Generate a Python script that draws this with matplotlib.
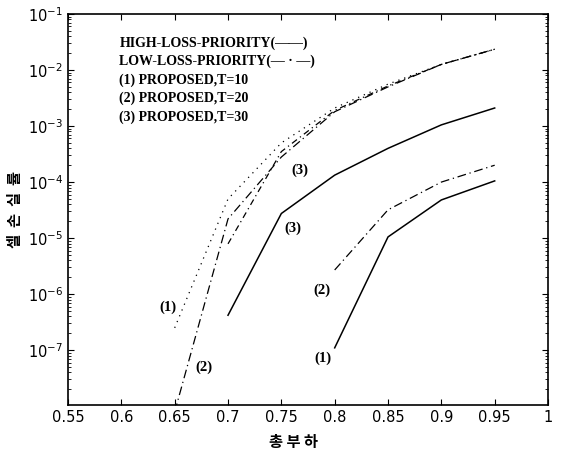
import matplotlib
matplotlib.use("Agg")
import matplotlib.pyplot as plt
from matplotlib.ticker import NullFormatter
import numpy as np

# total load (x) and cell loss rate (y)
load_hi_t10 = [0.80, 0.85, 0.90, 0.95]
loss_hi_t10 = [1.1e-7, 1.05e-5, 4.8e-5, 1.05e-4]

load_hi_t20 = [0.80, 0.85, 0.90, 0.95]
loss_hi_t20 = [2.7e-6, 3.2e-5, 1.0e-4, 2.0e-4]

load_hi_t30 = [0.70, 0.75, 0.80, 0.85, 0.90, 0.95]
loss_hi_t30 = [4.2e-7, 2.75e-5, 1.33e-4, 4.0e-4, 1.05e-3, 2.1e-3]

load_lo_t10 = [0.65, 0.70, 0.75, 0.80, 0.85, 0.90, 0.95]
loss_lo_t10 = [2.5e-7, 5.0e-5, 5.0e-4, 2.1e-3, 5.6e-3, 1.26e-2, 2.35e-2]

load_lo_t20 = [0.65, 0.70, 0.75, 0.80, 0.85, 0.90, 0.95]
loss_lo_t20 = [7.9e-9, 2.2e-5, 2.8e-4, 1.8e-3, 5.0e-3, 1.26e-2, 2.35e-2]

load_lo_t30 = [0.70, 0.75, 0.80, 0.85, 0.90, 0.95]
loss_lo_t30 = [7.9e-6, 3.5e-4, 1.9e-3, 5.2e-3, 1.26e-2, 2.35e-2]

y_ticks = [1e-7, 1e-6, 1e-5, 1e-4, 1e-3, 1e-2, 1e-1]
x_ticklabels = ["0.55", "0.6", "0.65", "0.7", "0.75", "0.8", "0.85", "0.9", "0.95", "1"]

legend_lines = [
    "HIGH-LOSS-PRIORITY(\u2014\u2014)",
    "LOW-LOSS-PRIORITY(\u2014 \u00b7 \u2014)",
    "(1) PROPOSED,T=10",
    "(2) PROPOSED,T=20",
    "(3) PROPOSED,T=30",
]

# curve tags: (text, x, y)
tags = [
    ("(1)", 0.644, 10 ** -6.23),
    ("(2)", 0.677, 10 ** -7.30),
    ("(3)", 0.767, 10 ** -3.79),
    ("(3)", 0.761, 10 ** -4.83),
    ("(2)", 0.788, 10 ** -5.93),
    ("(1)", 0.789, 10 ** -7.15),
]

fig = plt.figure(figsize=(5.63, 4.49), dpi=100)
ax = fig.add_axes([0.1208, 0.098, 0.8526, 0.8708])

dashdot = (0, (7, 3, 1, 3))
ax.plot(load_hi_t10, loss_hi_t10, color="black", lw=1.1)
ax.plot(load_hi_t20, loss_hi_t20, color="black", lw=0.9, linestyle=dashdot)
ax.plot(load_hi_t30, loss_hi_t30, color="black", lw=1.1)
ax.plot(load_lo_t10, loss_lo_t10, color="black", lw=0.9, linestyle=(0, (1, 4)))
ax.plot(load_lo_t20, loss_lo_t20, color="black", lw=0.9, linestyle=dashdot)
ax.plot(load_lo_t30, loss_lo_t30, color="black", lw=0.9, linestyle=(0, (5, 3, 1, 3)))

ax.set_yscale("log")
ax.set_xlim(0.55, 1.0)
ax.set_ylim(1.05e-8, 1e-1)
ax.set_yticks(y_ticks)
ax.yaxis.set_minor_formatter(NullFormatter())
ax.set_xticks(np.arange(0.55, 1.001, 0.05))
ax.set_xticklabels(x_ticklabels)
ax.tick_params(which="both", direction="in", top=True, right=True, labelsize=10.5)
ax.tick_params(which="major", length=4)
ax.tick_params(which="minor", length=2)
for spine in ax.spines.values():
    spine.set_linewidth(1.2)

for txt, x, y in tags:
    ax.text(x, y, txt, ha="center", va="center", fontsize=10.5,
            fontfamily="Liberation Serif", fontweight="bold")

for i, line in enumerate(legend_lines):
    ax.text(0.107, 0.926 - i * 0.0473, line, transform=ax.transAxes,
            ha="left", va="center", fontsize=10,
            fontfamily=["Liberation Serif", "DejaVu Serif"], fontweight="bold")

ax.set_xlabel("총 부 하", fontfamily=["Noto Sans CJK KR", "DejaVu Sans"],
              fontsize=11, fontweight="bold")
ax.xaxis.set_label_coords(0.47, -0.075)
ax.set_ylabel("셀  손  실  률", fontfamily=["Noto Sans CJK KR", "DejaVu Sans"],
              fontsize=11, fontweight="bold")
ax.yaxis.set_label_coords(-0.093, 0.5)

fig.savefig("out.png", dpi=100)
